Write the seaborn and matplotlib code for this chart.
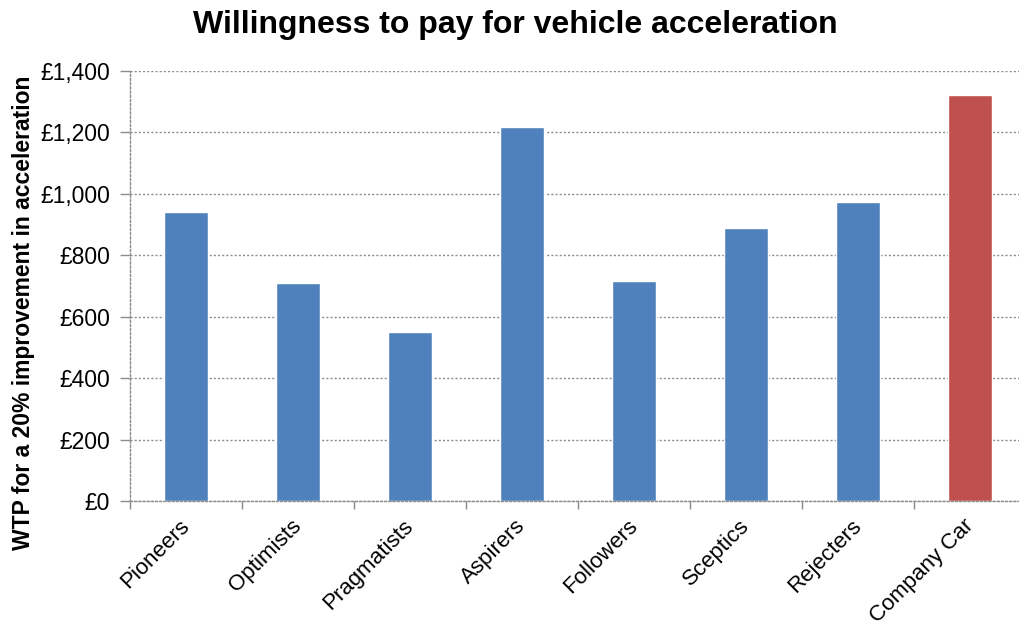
import matplotlib
matplotlib.use("Agg")
import matplotlib.pyplot as plt
from matplotlib.ticker import FuncFormatter, FixedLocator
from matplotlib.transforms import ScaledTranslation
import seaborn as sns
import pandas as pd

segments = ["Pioneers", "Optimists", "Pragmatists", "Aspirers", "Followers",
            "Sceptics", "Rejecters", "Company Car"]
wtp = [941, 711, 551, 1218, 716, 889, 974, 1322]
colors = ["#4F81BD"] * 7 + ["#C0504D"]

sns.set_theme(style="white")
plt.rcParams["font.family"] = ["Liberation Sans", "DejaVu Sans"]
plt.rcParams["text.color"] = "black"
plt.rcParams["axes.labelcolor"] = "black"

df = pd.DataFrame({"segment": segments, "wtp": wtp})

fig = plt.figure(figsize=(10.19, 6.26), dpi=100)
ax = fig.add_axes([130 / 1019, 125 / 626, 896 / 1019, 430 / 626])

sns.barplot(data=df, x="segment", y="wtp", hue="segment", palette=colors,
            width=0.4, legend=False, ax=ax, saturation=1)

ax.set_xlim(-0.5, len(segments) - 0.5)
ax.set_ylim(0, 1400)
ax.set_yticks(range(0, 1401, 200))
ax.yaxis.set_major_formatter(FuncFormatter(lambda v, p: f"£{int(v):,}"))

grid_kw = dict(color="#8c8c8c", linestyle=(0, (1.5, 1.5)), linewidth=1)
ax.yaxis.grid(True, **grid_kw)
ax.set_axisbelow(True)
for side in ["top", "right"]:
    ax.spines[side].set_visible(False)
for side in ["left", "bottom"]:
    ax.spines[side].set_color("#8c8c8c")
    ax.spines[side].set_linestyle((0, (1.5, 1.5)))
    ax.spines[side].set_linewidth(1)

ax.tick_params(axis="y", which="major", left=True, length=7, width=1,
               color="#8c8c8c", labelsize=16.5, pad=7.5, labelcolor="black")
ax.tick_params(axis="x", which="major", bottom=False, labelsize=16,
               labelcolor="black", pad=8)
ax.xaxis.set_minor_locator(FixedLocator([i - 0.5 for i in range(len(segments) + 1)]))
ax.tick_params(axis="x", which="minor", bottom=True, length=6, width=1,
               color="#8c8c8c")
shift = ScaledTranslation(-7 / 100, 5 / 100, fig.dpi_scale_trans)
for lbl in ax.get_xticklabels():
    lbl.set_rotation(45)
    lbl.set_ha("right")
    lbl.set_rotation_mode("anchor")
    lbl.set_transform(lbl.get_transform() + shift)

ax.set_xlabel("")
ax.set_ylabel("WTP for a 20% improvement in acceleration", fontsize=16.5,
              fontweight="bold")
ax.yaxis.set_label_coords(-95 / 896, 188 / 430)
fig.text(515 / 1019, 1 - 25 / 626, "Willingness to pay for vehicle acceleration",
         ha="center", va="center", fontsize=23, fontweight="bold")

fig.savefig("out.png", dpi=100)
